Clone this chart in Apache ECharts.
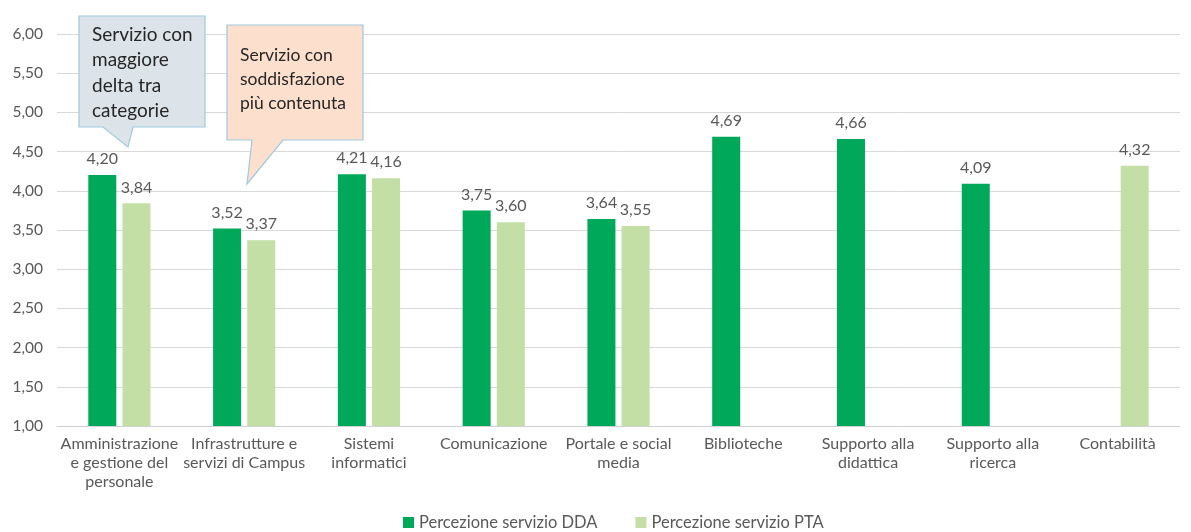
<!DOCTYPE html>
<html><head><meta charset="utf-8">
<script src="https://cdn.jsdelivr.net/npm/echarts@6/dist/echarts.min.js"></script>
<style>html,body{margin:0;padding:0;background:#fff}#c{width:1191px;height:532px}</style>
</head><body><div id="c"></div>
<script>
const categories = [
  "Amministrazione\ne gestione del\npersonale",
  "Infrastrutture e\nservizi di Campus",
  "Sistemi\ninformatici",
  "Comunicazione",
  "Portale e social\nmedia",
  "Biblioteche",
  "Supporto alla\ndidattica",
  "Supporto alla\nricerca",
  "Contabilità"
];
const seriesNames = ["Percezione servizio DDA", "Percezione servizio PTA"];
const ddaValues = [4.20, 3.52, 4.21, 3.75, 3.64, 4.69, 4.66, 4.09, null];
const ptaValues = [3.84, 3.37, 4.16, 3.60, 3.55, null, null, null, 4.32];
const yTicks = { min: 1, max: 6, interval: 0.5 };
const callout1 = "Servizio con\nmaggiore\ndelta tra\ncategorie";
const callout2 = "Servizio con\nsoddisfazione\npiù contenuta";

const FONT = "Lato, 'Open Sans', sans-serif";
const TXT = "#595959";
const fmt = v => Number(v).toFixed(2).replace('.', ',');

const chart = echarts.init(document.getElementById('c'), null, {renderer: 'canvas'});
const labelOpt = {show: true, position: 'top', distance: 8, color: TXT, fontSize: 16, fontFamily: FONT,
  formatter: p => p.value == null ? '' : fmt(p.value)};

function callout(x, y, w, h, tail, fill, text, fs, lh, pad) {
  const pts = [[0,0],[w,0],[w,h],[tail[1]-x,h],[tail[2]-x,tail[3]-y],[tail[0]-x,h],[0,h]];
  return {
    type: 'group', x: x, y: y, z: 100,
    children: [
      {type: 'polygon', z: 100, shape: {points: pts}, style: {fill: fill, stroke: '#9fc9e0', lineWidth: 1.2}},
      {type: 'text', z: 101, x: pad[0], y: pad[1], style: {text: text, fill: '#262626', font: fs + 'px ' + FONT, lineHeight: lh, verticalAlign: 'top'}}
    ]
  };
}

chart.setOption({
  animation: false,
  backgroundColor: '#fff',
  grid: {left: 57, right: 11, top: 34, bottom: 106, containLabel: false},
  legend: {
    top: 509, left: 398, itemWidth: 11, itemHeight: 11, itemGap: 38, icon: 'rect',
    textStyle: {color: TXT, fontSize: 16.5, fontFamily: FONT}, data: seriesNames
  },
  xAxis: {
    type: 'category', data: categories,
    axisLine: {lineStyle: {color: '#d0d0d0', width: 1}},
    axisTick: {show: false},
    axisLabel: {color: TXT, fontSize: 16, fontFamily: FONT, lineHeight: 19, margin: 8, interval: 0}
  },
  yAxis: {
    type: 'value', min: yTicks.min, max: yTicks.max, interval: yTicks.interval,
    axisLine: {show: false}, axisTick: {show: false},
    axisLabel: {color: TXT, fontSize: 15.5, fontFamily: FONT, margin: 14, formatter: v => fmt(v)},
    splitLine: {lineStyle: {color: '#d9d9d9', width: 1}}
  },
  series: [
    {name: seriesNames[0], type: 'bar', data: ddaValues, barWidth: 28, barGap: '22%',
     itemStyle: {color: '#00a859'}, label: labelOpt},
    {name: seriesNames[1], type: 'bar', data: ptaValues, barWidth: 28,
     itemStyle: {color: '#c3dfa6'}, label: labelOpt}
  ],
  graphic: [
    callout(79, 16, 126, 111, [103, 133, 128, 147], '#dde4e9', callout1, 19, 25.5, [13, 6]),
    callout(227, 25, 136, 115, [252, 283, 247, 184], '#fcdfcd', callout2, 17.5, 24, [13, 18])
  ]
});
</script></body></html>
